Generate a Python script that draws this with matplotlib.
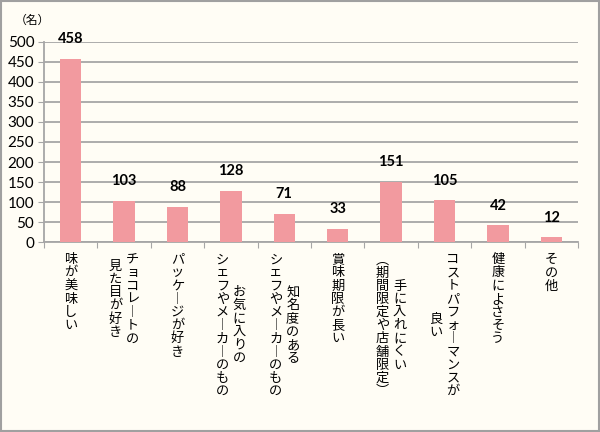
import matplotlib
matplotlib.use('Agg')
import matplotlib.pyplot as plt
from matplotlib.patches import Rectangle

# data
labels = [
    ['味が美味しい'],
    ['チョコレートの', '見た目が好き'],
    ['パッケージが好き'],
    ['お気に入りの', 'シェフやメーカーのもの'],
    ['知名度のある', 'シェフやメーカーのもの'],
    ['賞味期限が長い'],
    ['手に入れにくい', '（期間限定や店舗限定）'],
    ['コストパフォーマンスが', '良い'],
    ['健康によさそう'],
    ['その他'],
]
values = [458, 103, 88, 128, 71, 33, 151, 105, 42, 12]
yticks = [0, 50, 100, 150, 200, 250, 300, 350, 400, 450, 500]

bg = '#FFFDF5'
bar_color = '#F29A9F'
grid_color = '#A6A6A6'
jp_font = 'Noto Sans CJK JP'
num_font = 'Lato'

# vertical writing forms
vert = {'ー': '︱', '（': '︵', '）': '︶'}

fig = plt.figure(figsize=(6, 4.32), dpi=100, facecolor=bg)
ax = fig.add_axes([0.0733, 0.4398, 0.89, 0.463])
ax.set_facecolor(bg)

x = list(range(len(values)))
ax.bar(x, values, width=0.4, color=bar_color, zorder=3)
ax.set_xlim(-0.5, len(values) - 0.5)
ax.set_ylim(0, 500)
ax.set_yticks(yticks)
ax.set_yticklabels([str(v) for v in yticks], fontfamily=num_font, fontsize=11)
ax.yaxis.grid(True, color=grid_color, linewidth=1.3, zorder=0)
ax.set_axisbelow(True)

# category boundary ticks on x
ax.set_xticks([i - 0.5 for i in range(len(values) + 1)])
ax.set_xticklabels([])
ax.tick_params(axis='x', length=4, color=grid_color, direction='out')
ax.tick_params(axis='y', length=4, color=grid_color, direction='out', pad=3)
for side in ['top', 'right']:
    ax.spines[side].set_visible(False)
for side in ['left', 'bottom']:
    ax.spines[side].set_color(grid_color)
    ax.spines[side].set_linewidth(1.3)

# value labels
for xi, v in zip(x, values):
    ax.annotate(str(v), (xi, v), xytext=(0, 9), textcoords='offset points',
                ha='center', va='bottom', fontfamily=num_font,
                fontweight='bold', fontsize=10.5)

# vertical category labels
pitch = 9.5     # points per character
col_sp = 12.2   # points between columns
top_gap = 8.0
for i, cols in enumerate(labels):
    m = len(cols)
    n_max = max(len(c) for c in cols)
    for j, col in enumerate(cols):
        dx = ((m - 1) / 2 - j) * col_sp
        n = len(col)
        for k, ch in enumerate(col):
            dy = -(top_gap + (n_max - n) * pitch / 2 + (k + 0.5) * pitch)
            ax.annotate(vert.get(ch, ch), (i, 0), xycoords=('data', 'axes fraction'),
                        xytext=(dx, dy), textcoords='offset points',
                        ha='center', va='center', fontfamily=jp_font,
                        fontsize=9.5, annotation_clip=False)

fig.text(0.025, 0.952, '（名）', fontfamily=jp_font, fontsize=8.5,
         ha='left', va='center')

# outer border
fig.patches.append(Rectangle((0.001, 0.002), 0.997, 0.996, transform=fig.transFigure,
                             fill=False, edgecolor='#A0A0A0', linewidth=1.5))

fig.savefig('out.png', dpi=100, facecolor=bg)
